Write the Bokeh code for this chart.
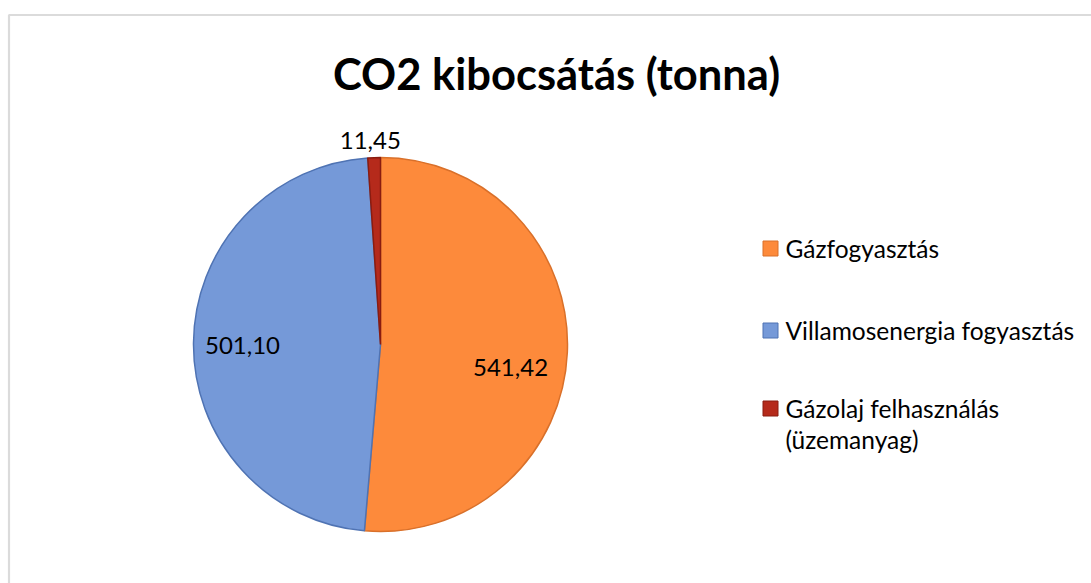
import numpy as np
from bokeh.plotting import figure
from bokeh.models import ColumnDataSource, Range1d, BoxAnnotation
from bokeh.core.properties import value
from bokeh.embed import file_html
from bokeh.resources import INLINE

title_text = "CO2 kibocsátás (tonna)"
categories = ["Gázfogyasztás", "Villamosenergia fogyasztás", "Gázolaj felhasználás\n(üzemanyag)"]
values = [541.42, 501.10, 11.45]
fill_colors = ["#FD8A3B", "#7599D8", "#B52A1B"]
line_colors = ["#D9702A", "#4F73B3", "#8A1C10"]

W, H = 1091, 583
FONT = "Lato"

p = figure(width=W, height=H, x_range=Range1d(0, W), y_range=Range1d(0, H),
           output_backend="svg", toolbar_location=None, min_border=0,
           x_axis_type=None, y_axis_type=None, background_fill_color="white",
           border_fill_color="white")
p.grid.visible = False
p.outline_line_color = None

# chart-area border (Excel style, cut off at right/bottom)
p.add_layout(BoxAnnotation(left=8.5, right=W + 20, bottom=-20, top=568.5,
                           fill_alpha=0, line_color="#888888", line_width=2.2))

# pie geometry
cx, cy, R = 380, 239, 187
vals = np.array(values)
frac = vals / vals.sum()
cum = np.concatenate([[0], np.cumsum(frac)])
start = np.pi / 2 - cum[:-1] * 2 * np.pi
end = np.pi / 2 - cum[1:] * 2 * np.pi
mid = (start + end) / 2

label_r = np.array([0.706, 0.738, 1.09]) * R
label_shift = np.radians([-7.5, 0.9, 0.9])
lab_ang = mid + label_shift
labels = [f"{v:.2f}".replace(".", ",") for v in values]

src = ColumnDataSource(dict(
    cat=categories, val=values, start=start, end=end,
    fill=fill_colors, line=line_colors,
    lx=cx + label_r * np.cos(lab_ang), ly=cy + label_r * np.sin(lab_ang),
    lab=labels,
))

p.wedge(x=cx, y=cy, radius=R, start_angle="start", end_angle="end",
        direction="clock", fill_color="fill", line_color="line",
        line_width=1.5, source=src)

p.text(x="lx", y="ly", text="lab", source=src, text_align="center",
       text_baseline="middle", text_font=value(FONT), text_font_size="24px",
       text_color="#000000")

# title
p.text(x=[556], y=[511], text=[title_text], text_align="center",
       text_baseline="middle", text_font=value(FONT), text_font_size="43.5px",
       text_font_style="bold", text_color="#000000")

# legend
leg_y = np.array([335, 253, 175])
leg = ColumnDataSource(dict(
    x=[770] * 3, y=leg_y, tx=[785] * 3, ty=leg_y + 15,
    cat=categories, fill=fill_colors, line=line_colors))
p.scatter(x="x", y="y", marker="square", size=15, fill_color="fill",
          line_color="line", line_width=1, source=leg)
p.text(x="tx", y="ty", text="cat", source=leg, text_align="left",
       text_baseline="top", text_font=value(FONT), text_font_size="24.5px",
       text_color="#000000", text_line_height=1.08)

open("out.html", "w").write(file_html(p, INLINE))
